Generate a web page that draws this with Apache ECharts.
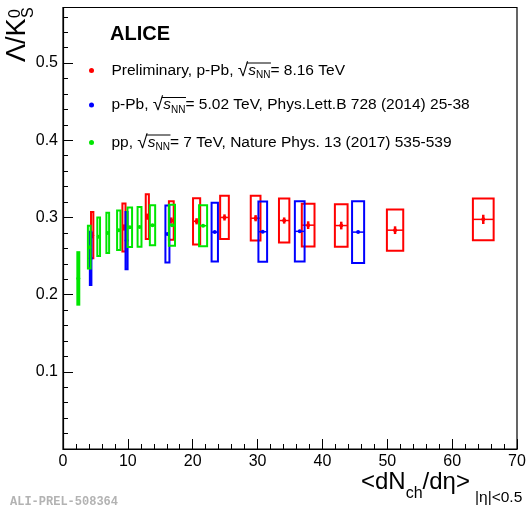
<!DOCTYPE html>
<html>
<head>
<meta charset="utf-8">
<script src="https://cdn.jsdelivr.net/npm/echarts@6/dist/echarts.min.js"></script>
<style>
  html, body { margin: 0; padding: 0; background: #fff; }
  #chart { width: 532px; height: 506px; }
</style>
</head>
<body>
<div id="chart"></div>
<script>
// ALICE preliminary p-Pb 8.16 TeV
var prelX = [4.5, 9.4, 13.0, 16.7, 20.6, 24.9, 29.7, 34.1, 37.8, 42.9, 51.2, 64.8];
var prelY = [0.277, 0.287, 0.301, 0.296, 0.295, 0.300, 0.299, 0.296, 0.290, 0.2895, 0.2835, 0.2975];
var prelXErr = [0.18, 0.24, 0.24, 0.37, 0.55, 0.67, 0.75, 0.8, 0.98, 0.98, 1.26, 1.6];
var prelSys = [0.030, 0.031, 0.029, 0.025, 0.030, 0.028, 0.029, 0.0285, 0.0276, 0.0276, 0.0268, 0.027];
var prelStat = [0.004, 0.004, 0.004, 0.004, 0.004, 0.004, 0.004, 0.004, 0.005, 0.005, 0.005, 0.006];

// p-Pb 5.02 TeV, PLB 728 (2014) 25-38
var pbX = [4.26, 9.8, 16.1, 23.4, 30.8, 36.5, 45.5];
var pbY = [0.247, 0.270, 0.2785, 0.281, 0.2815, 0.282, 0.281];
var pbXErr = [0.12, 0.16, 0.31, 0.49, 0.67, 0.75, 0.93];
var pbSys = [0.0345, 0.037, 0.037, 0.038, 0.039, 0.039, 0.040];

// pp 7 TeV, Nature Phys. 13 (2017) 535-539
var ppX = [2.36, 4.05, 5.5, 6.9, 8.6, 10.3, 11.8, 13.8, 16.8, 21.6];
var ppY = [0.221, 0.2615, 0.275, 0.280, 0.2835, 0.2874, 0.2877, 0.2899, 0.2899, 0.2893];
var ppXErr = [0.15, 0.21, 0.21, 0.21, 0.26, 0.35, 0.3, 0.41, 0.47, 0.62];
var ppSys = [0.034, 0.0276, 0.025, 0.026, 0.0256, 0.0256, 0.0257, 0.0259, 0.0265, 0.0265];

var xTicks = [0, 10, 20, 30, 40, 50, 60, 70];
var yTicks = [0.1, 0.2, 0.3, 0.4, 0.5];

var names = ['prel', 'pb', 'pp'];
var legendText = {
  prel: 'Preliminary, p-Pb, {r|√}{s|s}{n|NN}= 8.16 TeV',
  pb: 'p-Pb, {r|√}{s|s}{n|NN}= 5.02 TeV, Phys.Lett.B 728 (2014) 25-38',
  pp: 'pp, {r|√}{s|s}{n|NN}= 7 TeV, Nature Phys. 13 (2017) 535-539'
};
var legendPrefix = { prel: 'Preliminary, p-Pb, ', pb: 'p-Pb, ', pp: 'pp, ' };
var colors = { prel: '#ff0000', pb: '#0000ff', pp: '#00e600' };
var rowY = [70, 104.5, 142];
var font = '"Liberation Sans", Arial, sans-serif';

function zip(x, y, ex, sys, st) {
  var out = [];
  for (var i = 0; i < x.length; i++) {
    out.push([x[i], y[i], ex[i], sys[i], st ? st[i] : 0]);
  }
  return out;
}

// box = systematic error, line through = x width, small bar = stat
function renderBox(color) {
  return function (params, api) {
    var x = api.value(0), y = api.value(1), ex = api.value(2), sys = api.value(3), st = api.value(4);
    var tl = api.coord([x - ex, y + sys]);
    var br = api.coord([x + ex, y - sys]);
    var c = api.coord([x, y]);
    var children = [
      { type: 'rect', shape: { x: tl[0], y: tl[1], width: br[0] - tl[0], height: br[1] - tl[1] },
        style: { fill: 'none', stroke: color, lineWidth: 2 } },
      { type: 'line', shape: { x1: tl[0], y1: c[1], x2: br[0], y2: c[1] },
        style: { stroke: color, lineWidth: 1.5 } },
      { type: 'circle', shape: { cx: c[0], cy: c[1], r: 2 }, style: { fill: color } }
    ];
    if (st > 0) {
      var a = api.coord([x, y + st]), b = api.coord([x, y - st]);
      children.push({ type: 'line', shape: { x1: a[0], y1: a[1], x2: b[0], y2: b[1] },
        style: { stroke: color, lineWidth: 2.5 } });
    }
    return { type: 'group', children: children };
  };
}

function textWidth(str, f) {
  var ctx = document.createElement('canvas').getContext('2d');
  ctx.font = f;
  return ctx.measureText(str).width;
}

var seriesData = {
  prel: zip(prelX, prelY, prelXErr, prelSys, prelStat),
  pb: zip(pbX, pbY, pbXErr, pbSys),
  pp: zip(ppX, ppY, ppXErr, ppSys)
};

var series = names.map(function (n) {
  return {
    name: n,
    type: 'custom',
    clip: false,
    renderItem: renderBox(colors[n]),
    itemStyle: { color: colors[n] },
    encode: { x: 0, y: 1 },
    data: seriesData[n]
  };
});

var legendLeft = 89;
var legends = names.map(function (n, i) {
  return {
    data: [n],
    left: legendLeft,
    top: rowY[i] - 9,
    padding: 0,
    icon: 'circle',
    itemWidth: 30,
    itemHeight: 5,
    selectedMode: false,
    formatter: function (name) { return legendText[name]; },
    textStyle: {
      fontSize: 15.5, fontFamily: font, color: '#000',
      rich: {
        r: { fontSize: 19, fontFamily: font },
        s: { fontSize: 15.5, fontStyle: 'italic', fontFamily: font },
        n: { fontSize: 10, fontFamily: font, padding: [10, 0, 0, 0] }
      }
    }
  };
});

// overline over s_NN
var graphics = [];
names.forEach(function (n, i) {
  var x0 = legendLeft + 22 + textWidth(legendPrefix[n], '15.5px ' + font);
  var wr = textWidth('√', '19px ' + font);
  var ws = textWidth('s', 'italic 15.5px ' + font);
  var wn = textWidth('NN', '10px ' + font);
  graphics.push({
    type: 'line',
    shape: { x1: x0 + wr - 1, y1: rowY[i] - 7, x2: x0 + wr + ws + wn + 1, y2: rowY[i] - 7 },
    style: { stroke: '#000', lineWidth: 1 }
  });
});

graphics.push(
  { type: 'text', x: 110, y: 34, style: { text: 'ALICE', font: 'bold 20px ' + font, fill: '#000', verticalAlign: 'middle' } },
  { type: 'text', x: 17.5, y: 62, rotation: Math.PI / 2,
    style: { text: 'Λ/K', font: '27px ' + font, fill: '#000', align: 'left', verticalAlign: 'middle' } },
  { type: 'text', x: 16, y: 18, rotation: Math.PI / 2,
    style: { text: '0', font: '16px ' + font, fill: '#000', align: 'left', verticalAlign: 'middle' } },
  { type: 'text', x: 28.5, y: 18, rotation: Math.PI / 2,
    style: { text: 'S', font: '16px ' + font, fill: '#000', align: 'left', verticalAlign: 'middle' } },
  { type: 'text', x: 361, y: 482.5,
    style: { text: '<dN{s|ch}/dη>', fontSize: 24, fontFamily: font, fill: '#000', verticalAlign: 'middle',
      rich: { s: { fontSize: 16, fontFamily: font, padding: [22, 0, 0, 0] } } } },
  { type: 'text', x: 475, y: 497.5,
    style: { text: '|η|<0.5', font: '15.5px ' + font, fill: '#000', verticalAlign: 'middle' } },
  { type: 'text', x: 10, y: 502,
    style: { text: 'ALI-PREL-508364', font: 'bold 12px "Liberation Mono", monospace', fill: '#b3b3b3', verticalAlign: 'middle' } }
);

var myChart = echarts.init(document.getElementById('chart'), null, { renderer: 'canvas' });
myChart.setOption({
  backgroundColor: '#fff',
  animation: false,
  grid: { left: 63, right: 15, top: 7.5, bottom: 57, show: true, borderColor: '#000', borderWidth: 1.2, containLabel: false },
  legend: legends,
  xAxis: {
    type: 'value', min: xTicks[0], max: xTicks[xTicks.length - 1], interval: 10,
    axisLine: { lineStyle: { color: '#000', width: 1.2 } },
    axisTick: { inside: true, length: 10, lineStyle: { color: '#000' } },
    minorTick: { show: true, splitNumber: 5, length: 5, lineStyle: { color: '#000' } },
    splitLine: { show: false },
    axisLabel: { fontSize: 16, fontFamily: font, color: '#000', margin: 5 }
  },
  yAxis: [{
    type: 'value', min: 0, max: 0.572, interval: 0.1,
    axisLine: { lineStyle: { color: '#000', width: 1.2 } },
    axisTick: { inside: true, length: 10, lineStyle: { color: '#000' } },
    splitLine: { show: false },
    axisLabel: {
      fontSize: 16, fontFamily: font, color: '#000', margin: 5, showMaxLabel: false,
      formatter: function (v) {
        for (var i = 0; i < yTicks.length; i++) {
          if (Math.abs(v - yTicks[i]) < 1e-6) return yTicks[i].toFixed(1);
        }
        return '';
      }
    }
  }, {
    type: 'value', min: 0, max: 0.572, interval: 0.02, position: 'left',
    axisLine: { show: false },
    axisTick: { inside: true, length: 5, lineStyle: { color: '#000' } },
    splitLine: { show: false },
    axisLabel: { show: false }
  }],
  graphic: graphics,
  series: series
});
</script>
</body>
</html>
